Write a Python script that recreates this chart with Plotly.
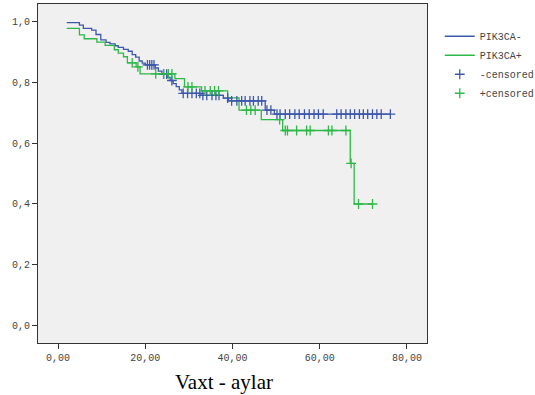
import plotly.graph_objects as go
import bisect

# ---- data ----
neg_t = [2.0, 4.9, 5.8, 7.7, 8.7, 9.8, 11.0, 11.9, 13.1, 13.8, 15.0, 16.1, 17.0, 17.8,
         18.6, 19.3, 20.0, 22.3, 23.0, 23.8, 25.0, 25.7, 26.4, 27.1, 27.8, 28.4, 32.8,
         37.9, 39.1, 47.5, 49.6]
neg_s = [0.995, 0.987, 0.976, 0.970, 0.956, 0.938, 0.930, 0.925, 0.919, 0.914, 0.907,
         0.901, 0.890, 0.882, 0.869, 0.862, 0.856, 0.846, 0.836, 0.826, 0.815, 0.805,
         0.795, 0.785, 0.774, 0.763, 0.756, 0.747, 0.738, 0.708, 0.695]
neg_end = 76.2
neg_cens = [20.5, 21.0, 21.5, 22.0, 24.2, 24.9, 26.1, 28.7, 29.7, 30.7, 31.7, 32.5,
            33.2, 34.1, 35.3, 36.2, 36.9, 38.9, 39.8, 41.0, 42.1, 42.9, 44.0, 44.8,
            45.9, 46.7, 47.9, 48.8, 50.2, 50.9, 52.1, 53.1, 54.3, 55.3, 56.5, 57.6,
            58.7, 59.7, 60.8, 63.9, 64.9, 66.0, 67.0, 68.0, 69.1, 70.0, 71.0, 72.1,
            73.1, 74.1, 76.2]

pos_t = [2.0, 4.9, 6.0, 8.9, 10.8, 12.9, 13.8, 15.0, 15.9, 17.9, 18.8, 26.8, 29.0,
         32.9, 38.9, 41.5, 46.6, 51.5, 67.0, 67.9]
pos_s = [0.976, 0.955, 0.942, 0.931, 0.920, 0.906, 0.895, 0.883, 0.863, 0.850, 0.827,
         0.811, 0.784, 0.771, 0.748, 0.708, 0.677, 0.641, 0.533, 0.400]
pos_end = 72.1
pos_cens = [17.0, 18.3, 22.4, 24.2, 25.3, 26.1, 29.8, 30.7, 33.7, 34.9, 35.9, 36.8,
            43.2, 44.2, 45.2, 50.8, 52.1, 52.6, 54.7, 57.0, 57.8, 62.0, 62.8, 66.0,
            67.2, 68.9, 72.1]

x_ticks = [0, 20, 40, 60, 80]
y_ticks = [0.0, 0.2, 0.4, 0.6, 0.8, 1.0]

BLUE = "#3E58AC"
GREEN = "#2EB848"


def surv_at(ts, ss, t):
    i = bisect.bisect_right(ts, t) - 1
    return ss[max(i, 0)]


fig = go.Figure()
fig.add_trace(go.Scatter(x=neg_t + [neg_end], y=neg_s + [neg_s[-1]], mode="lines",
                         line=dict(color=BLUE, width=1.3, shape="hv"), name="PIK3CA-"))
fig.add_trace(go.Scatter(x=pos_t + [pos_end], y=pos_s + [pos_s[-1]], mode="lines",
                         line=dict(color=GREEN, width=1.3, shape="hv"), name="PIK3CA+"))
fig.add_trace(go.Scatter(x=neg_cens, y=[surv_at(neg_t, neg_s, t) for t in neg_cens],
                         mode="markers", name="-censored",
                         marker=dict(symbol="cross-thin", size=7,
                                     line=dict(color=BLUE, width=1.3))))
fig.add_trace(go.Scatter(x=pos_cens, y=[surv_at(pos_t, pos_s, t) for t in pos_cens],
                         mode="markers", name="+censored",
                         marker=dict(symbol="cross-thin", size=7,
                                     line=dict(color=GREEN, width=1.3))))

mono = dict(family="Liberation Mono, DejaVu Sans Mono, monospace", size=10, color="#444")

fig.update_layout(
    width=535, height=395,
    margin=dict(l=38, r=108, t=4, b=52, autoexpand=False),
    paper_bgcolor="white", plot_bgcolor="#F0F0F0",
    separators=", ",
    showlegend=True,
    legend=dict(xref="container", yref="container", x=0.822, y=0.945,
                xanchor="left", yanchor="top",
                font=mono, bgcolor="rgba(0,0,0,0)", tracegroupgap=0,
                itemwidth=30),
    xaxis=dict(range=[-4.6, 84.6], tickvals=x_ticks, tickformat=".2f",
               showgrid=False, zeroline=False, showline=True, mirror=True,
               linecolor="#333", linewidth=1, ticks="outside", ticklen=5,
               tickcolor="#333", tickfont=mono),
    yaxis=dict(range=[-0.056, 1.056], tickvals=y_ticks, tickformat=".1f",
               showgrid=False, zeroline=False, showline=True, mirror=True,
               linecolor="#333", linewidth=1, ticks="outside", ticklen=5,
               tickcolor="#333", tickfont=mono),
    annotations=[dict(text="Vaxt - aylar", xref="paper", yref="paper",
                      x=0.477, y=-0.115, xanchor="center", yanchor="middle",
                      showarrow=False,
                      font=dict(family="Liberation Serif, Times New Roman, serif",
                                size=21, color="black"))],
)

fig.write_html("out.html")
